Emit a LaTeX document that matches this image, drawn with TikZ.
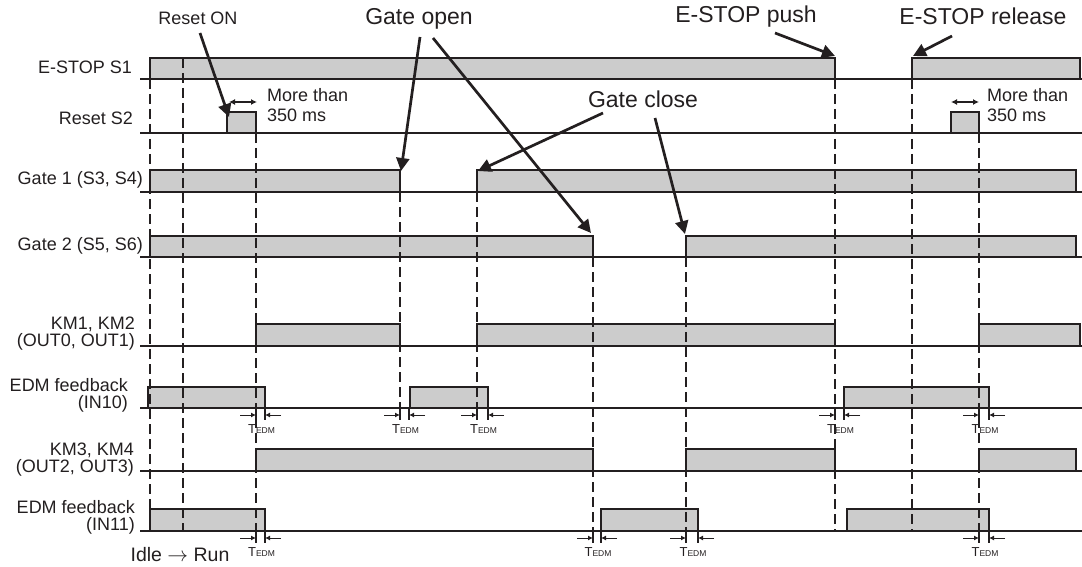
\documentclass[tikz,border=0pt]{standalone}
\usepackage{fontspec}
\setmainfont{Liberation Sans}
\usepackage{xcolor}
\usepackage{tikz}
\usetikzlibrary{arrows.meta}
\definecolor{tdInk}{HTML}{231F20}
\definecolor{tdFill}{HTML}{CCCCCC}
\tikzset{
  td diagram/.style={x=1pt, y=-1pt, text=tdInk, line join=miter},
  td base/.style={draw=tdInk, line width=1.1pt},
  td pulse/.style={draw=tdInk, fill=tdFill, line width=1.3pt},
  td guide/.style={draw=tdInk, line width=1.1pt, dash pattern=on 10pt off 5pt},
  td pointer/.style={-{Triangle[length=13pt,width=13pt]}, draw=tdInk, line width=2.7pt},
  td span/.style={{Latex[length=6pt,width=6pt]}-{Latex[length=6pt,width=6pt]}, draw=tdInk, line width=1.2pt},
  td gap/.style={-{Latex[length=5pt,width=5pt]}, draw=tdInk, line width=1pt},
  td signal/.style={font=\fontsize{18}{17}\selectfont, align=right, inner sep=0pt},
  td note/.style={font=\fontsize{23}{26}\selectfont, inner sep=0pt},
  td label/.style={font=\fontsize{18}{20}\selectfont, inner sep=0pt},
  td tedm/.style={font=\fontsize{13}{13}\selectfont, inner sep=0pt}
}
\newcommand{\tdTedm}{T{\fontsize{8.5}{9}\selectfont EDM}}

\begin{document}
\begin{tikzpicture}[td diagram]
\useasboundingbox (0,0) rectangle (1082,567);
\node[td signal,anchor=base east] (estop) at (132,74) {E-STOP S1};
\node[td signal,anchor=base east] (reset) at (133,125) {Reset S2};
\node[td signal,anchor=base east] (gateA) at (143,185) {Gate 1 (S3, S4)};
\node[td signal,anchor=base east] (gateB) at (143,250) {Gate 2 (S5, S6)};
\node[td signal,anchor=east] (kmA) at (135,334) {KM1, KM2\\(OUT0, OUT1)};
\node[td signal,anchor=east] (edmA) at (128,395) {EDM feedback\\(IN10)};
\node[td signal,anchor=east] (kmB) at (134,460) {KM3, KM4\\(OUT2, OUT3)};
\node[td signal,anchor=east] (edmB) at (135,517) {EDM feedback\\(IN11)};

\foreach \y in {79,133,192,257,346,408,471,531}
  \draw[td base] (140,\y) -- (1082,\y);
\foreach \xa/\xb/\ya/\yb in {150/835/58/79, 912/1080/58/79,
    227/256/112/133, 951/979/112/133,
    150/400/170/192, 477/1076/170/192,
    150/593/236/257, 686/1076/236/257,
    256/400/324/346, 477/835/324/346, 979/1080/324/346,
    148/265/387/408, 410/488/387/408, 844/989/387/408,
    256/593/449/471, 686/835/449/471, 979/1076/449/471,
    150/265/509/531, 601/698/509/531, 847/989/509/531}
  \draw[td pulse] (\xa,\yb) rectangle (\xb,\ya);
\foreach \x/\ya/\yb in {150/79/509, 183/58/531, 256/133/540, 400/192/418, 477/192/418,
    593/257/540, 686/257/540, 835/79/531, 912/79/531, 979/133/540}
  \draw[td guide] (\x,\ya) -- (\x,\yb);

\foreach \xa/\xb/\y in {256/265/408, 400/409/408, 477/488/408, 835/844/408, 979/989/408,
    256/265/531, 593/601/531, 686/698/531, 979/989/531} {
  \draw[td base] (\xa,\y) -- ++(0,12) (\xb,\y) -- ++(0,12);
  \draw[td gap] (\xa-16,\y+7) -- (\xa,\y+7);
  \draw[td gap] (\xb+16,\y+7) -- (\xb,\y+7);
  \node[td tedm,anchor=base] (tedm-\xa-\y) at ({(\xa+\xb)/2+1},\y+25) {\tdTedm};
}

\draw[td span] (229,102) -- (257,102);
\draw[td span] (951,102) -- (979,102);
\node[td label,anchor=north west,align=left] (spanA) at (267,88) {More than\\350 ms};
\node[td label,anchor=north west,align=left] (spanB) at (987,88) {More than\\350 ms};

\node[td label,anchor=base] (resetOn) at (198,25) {Reset ON};
\node[td note,anchor=base] (gateOpen) at (419,25) {Gate open};
\node[td note,anchor=base] (gateClose) at (643,108) {Gate close};
\node[td note,anchor=base] (estopPush) at (746,23) {E-STOP push};
\node[td note,anchor=base] (estopRelease) at (983,25) {E-STOP release};
\coordinate (resetTip) at (229,117);
\coordinate (openTipA) at (401,171);
\coordinate (openTipB) at (591,233);
\coordinate (closeTipA) at (478,171);
\coordinate (closeTipB) at (685,234);
\coordinate (pushTip) at (835,56);
\coordinate (releaseTip) at (913,56);
\draw[td pointer] ([shift={(2,8)}]resetOn.base) -- (resetTip);
\draw[td pointer] ([shift={(1,12)}]gateOpen.base) -- (openTipA);
\draw[td pointer] ([shift={(14,13)}]gateOpen.base) -- (openTipB);
\draw[td pointer] ([shift={(-40,5)}]gateClose.base) -- (closeTipA);
\draw[td pointer] ([shift={(12,10)}]gateClose.base) -- (closeTipB);
\draw[td pointer] ([shift={(29,10)}]estopPush.base) -- (pushTip);
\draw[td pointer] ([shift={(-31,11)}]estopRelease.base) -- (releaseTip);

\node[font=\fontsize{19.5}{22}\selectfont,inner sep=0pt,anchor=base] (idleRun) at (180,561) {Idle $\rightarrow$ Run};
\end{tikzpicture}
\end{document}
